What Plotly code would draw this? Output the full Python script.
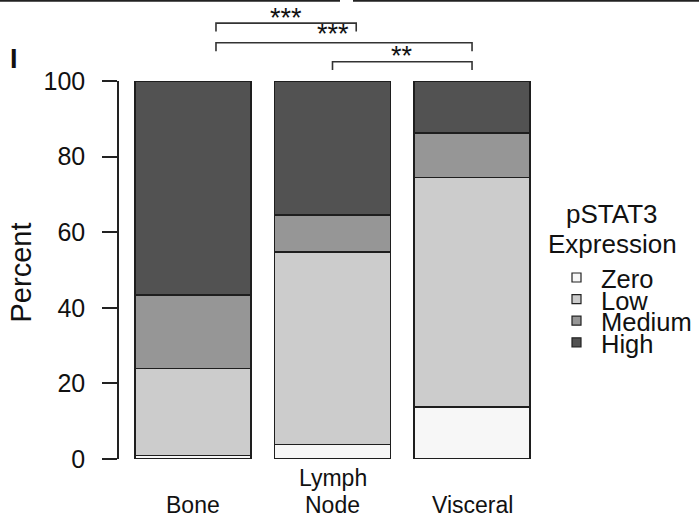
import plotly.graph_objects as go

# ---- data ----
categories = ["Bone", "Lymph Node", "Visceral"]
category_lines = [["Bone"], ["Lymph", "Node"], ["Visceral"]]
series_names = ["Zero", "Low", "Medium", "High"]
zero = [0.9, 3.9, 13.7]
low = [23.0, 50.9, 60.8]
medium = [19.5, 9.8, 11.8]
high = [56.6, 35.4, 13.7]
series_colors = ["#F7F7F7", "#CCCCCC", "#969696", "#525252"]
y_ticks = [0, 20, 40, 60, 80, 100]
legend_title = ["pSTAT3", "Expression"]
# significance brackets: (from idx, to idx, level %, label)
brackets = [(0.165, 1.17, 115.3, "***"), (0.165, 2.0, 110.1, "***"), (1.0, 2.0, 105.1, "**")]
star_pos = [(0.667, 117.8), (1.0, 113.5), (1.5, 107.7)]

W, H = 699, 524
ML, MR, MT, MB = 119, 153, 81, 65
XMIN, XMAX = -0.53, 2.53
YMIN, YMAX = 0, 100


def xp(idx):
    return (idx - XMIN) / (XMAX - XMIN)


def yp(v):
    return (v - YMIN) / (YMAX - YMIN)


def pxp(px):  # pixel x -> paper
    return (px - ML) / (W - ML - MR)


def pyp(py):  # pixel y -> paper
    return (H - MB - py) / (H - MT - MB)


FONT = "Liberation Sans, Arial, Helvetica, sans-serif"
fig = go.Figure()
values = [zero, low, medium, high]
for name, vals, col in zip(series_names, values, series_colors):
    fig.add_trace(go.Bar(
        x=list(range(len(categories))), y=vals, name=name,
        marker=dict(color=col, line=dict(color="#1e1e1e", width=1.5)),
        width=0.833, showlegend=False, hoverinfo="y+name",
    ))

shapes = []
annotations = []
# brackets
for x0, x1, lvl, lab in brackets:
    drop = 2.2
    shapes.append(dict(type="path", xref="paper", yref="paper",
                       path=f"M {xp(x0)},{yp(lvl - drop)} L {xp(x0)},{yp(lvl)} L {xp(x1)},{yp(lvl)} L {xp(x1)},{yp(lvl - drop)}",
                       line=dict(color="#333333", width=1.6)))
for (sx, sy), (_, _, _, lab) in zip(star_pos, brackets):
    annotations.append(dict(x=xp(sx), y=yp(sy), xref="paper", yref="paper", text=lab,
                            showarrow=False, xanchor="center", yanchor="middle", yshift=-4,
                            font=dict(family=FONT, size=27, color="#111111")))

# top border fragments (from the source figure)
for a, b in [(0, 340), (353, 699)]:
    shapes.append(dict(type="line", xref="paper", yref="paper", x0=pxp(a), x1=pxp(b),
                       y0=pyp(0.8), y1=pyp(0.8), line=dict(color="#222222", width=2)))

# panel label
annotations.append(dict(x=pxp(14), y=pyp(59.5), xref="paper", yref="paper", text="<b>I</b>",
                        showarrow=False, xanchor="center", yanchor="middle",
                        font=dict(family=FONT, size=27, color="#111111")))
# y axis title
annotations.append(dict(x=pxp(20), y=pyp(272.5), xref="paper", yref="paper", text="Percent",
                        showarrow=False, textangle=-90, xanchor="center", yanchor="middle",
                        font=dict(family=FONT, size=29, color="#111111")))
# category labels (bottom-aligned lines)
for i, lines in enumerate(category_lines):
    n = len(lines)
    for j, line in enumerate(lines):
        cy = 505 - (n - 1 - j) * 27
        annotations.append(dict(x=xp(i), y=pyp(cy), xref="paper", yref="paper", text=line,
                                showarrow=False, xanchor="center", yanchor="middle",
                                font=dict(family=FONT, size=23, color="#111111")))
# legend (manual)
for j, t in enumerate(legend_title):
    annotations.append(dict(x=pxp(612), y=pyp(214 + j * 30), xref="paper", yref="paper", text=t,
                            showarrow=False, xanchor="center", yanchor="middle",
                            font=dict(family=FONT, size=26, color="#111111")))
for j, (name, col) in enumerate(zip(series_names, series_colors)):
    cy = 277.5 + j * 21.6
    shapes.append(dict(type="rect", xref="paper", yref="paper",
                       x0=pxp(572), x1=pxp(581), y0=pyp(cy - 4.5), y1=pyp(cy + 4.5),
                       fillcolor=col, line=dict(color="#222222", width=1.2)))
    annotations.append(dict(x=pxp(599), y=pyp(cy + 1.5), xref="paper", yref="paper", text=name,
                            showarrow=False, xanchor="left", yanchor="middle",
                            font=dict(family=FONT, size=25.5, color="#111111")))

fig.update_layout(
    width=W, height=H, margin=dict(l=ML, r=MR, t=MT, b=MB, pad=0),
    paper_bgcolor="white", plot_bgcolor="white", barmode="stack",
    showlegend=False, shapes=shapes, annotations=annotations,
    font=dict(family=FONT, color="#111111"),
    xaxis=dict(range=[XMIN, XMAX], showgrid=False, zeroline=False, showline=False,
               showticklabels=False, ticks=""),
    yaxis=dict(range=[YMIN, YMAX], tickvals=y_ticks, ticktext=[str(v) for v in y_ticks],
               showgrid=False, zeroline=False, showline=True, linecolor="#222222", linewidth=1.5,
               ticks="outside", ticklen=15, tickwidth=1.5, tickcolor="#222222",
               ticklabelstandoff=12,
               tickfont=dict(family=FONT, size=25, color="#111111")),
)

fig.write_html("out.html", config={"displayModeBar": False},
               post_script="document.body.style.margin='0';document.body.style.overflow='hidden';")
